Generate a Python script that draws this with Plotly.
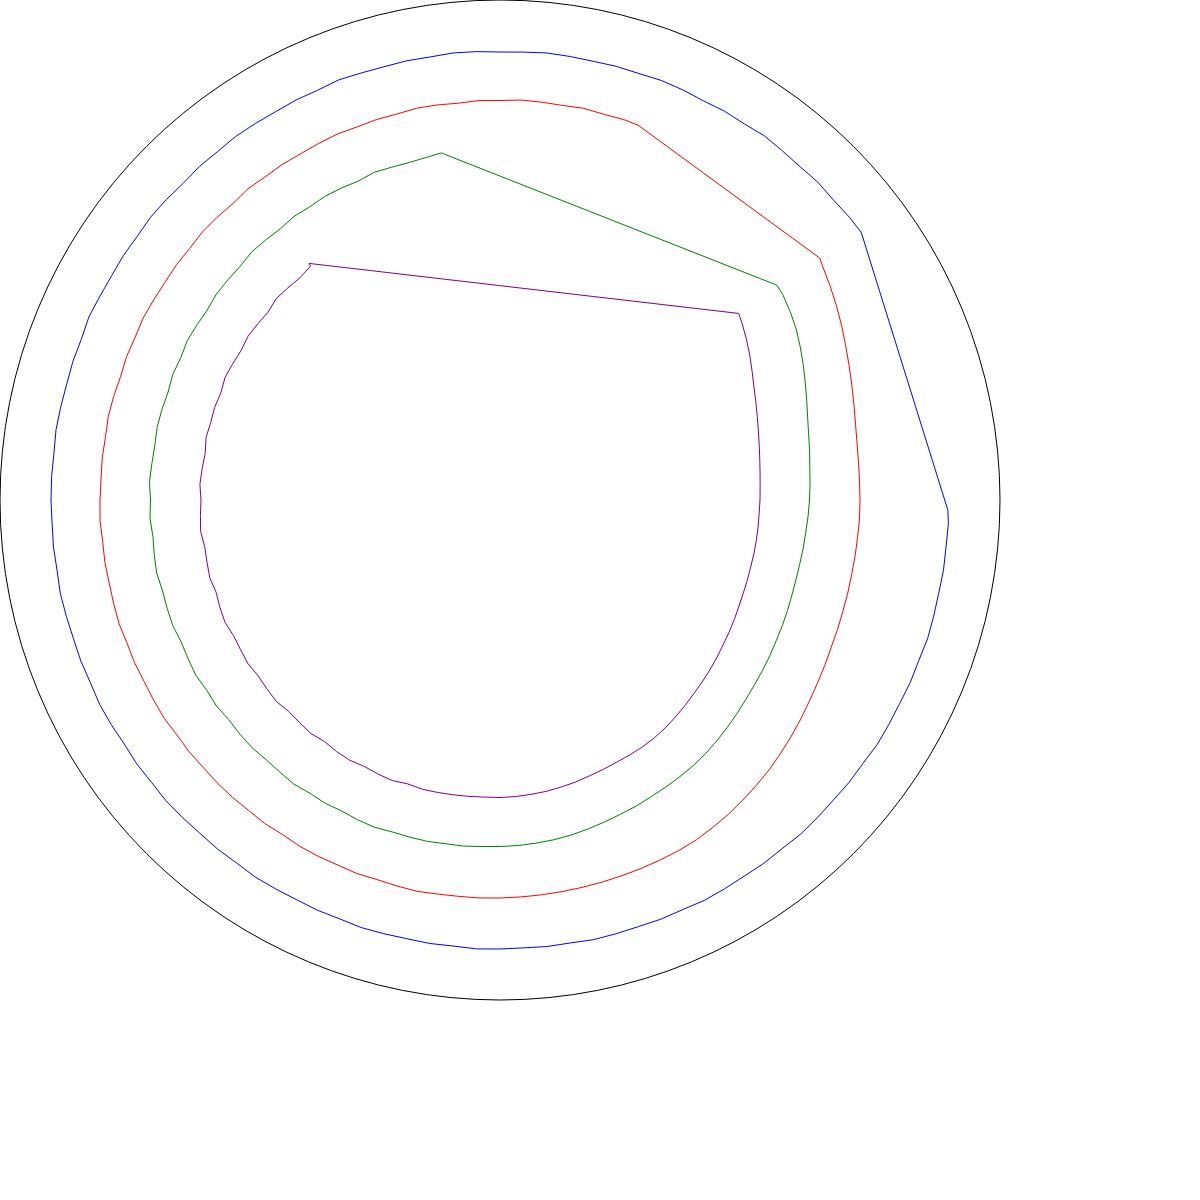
import plotly.graph_objects as go

N = None

# Shared angular sample positions (degrees, counter-clockwise from east)
ANGLES = [0, 3, 6, 9, 12, 15, 18, 21, 24, 27,
          30, 33, 36, 39, 42, 45, 48, 51, 54, 57,
          60, 63, 66, 69, 72, 75, 78, 81, 84, 87,
          90, 93, 96, 99, 102, 105, 108, 111, 114, 117,
          120, 123, 126, 129, 132, 135, 138, 141, 144, 147,
          150, 153, 156, 159, 162, 165, 168, 171, 174, 177,
          180, 183, 186, 189, 192, 195, 198, 201, 204, 207,
          210, 213, 216, 219, 222, 225, 228, 231, 234, 237,
          240, 243, 246, 249, 252, 255, 258, 261, 264, 267,
          270, 273, 276, 279, 282, 285, 288, 291, 294, 297,
          300, 303, 306, 309, 312, 315, 318, 321, 324, 327,
          330, 333, 336, 339, 342, 345, 348, 351, 354, 357]

BLUE_R = [N, N, N, N, N, N, N, N, N, N,
          N, N, N, .899, .897, .899, .897, .898, .900, .897,
          .898, .896, .898, .899, .897, .898, .897, .898, .899, .897,
          .896, .898, .899, .897, .898, .897, .898, .900, .897, .898,
          .897, .898, .899, .897, .898, .896, .898, .899, .897, .898,
          .897, .898, .900, .897, .898, .897, .898, .899, .897, .898,
          .898, .897, .898, .897, .899, .898, .897, .898, .897, .899,
          .898, .896, .898, .897, .899, .898, .897, .898, .897, .899,
          .898, .897, .898, .897, .899, .898, .897, .898, .897, .899,
          .898, .897, .898, .897, .899, .898, .897, .898, .897, .899,
          .898, .897, .898, .897, .899, .898, .897, .898, .897, .899,
          .898, .897, .898, .897, .899, .898, .897, .898, .897, .898]

RED_R = [.720, .720, .721, .723, .727, .733, .740, .748, .757, .767,
         .777, .787, .797, N, N, N, N, N, N, N,
         N, N, N, N, .800, .799, .801, .799, .800, .801,
         .799, .800, .798, .800, .801, .799, .800, .799, .801, .800,
         .799, .800, .799, .801, .798, .800, .801, .799, .800, .799,
         .800, .801, .799, .800, .798, .800, .801, .799, .800, .799,
         .800, .801, .799, .800, .799, .800, .801, .799, .800, .799,
         .800, .801, .799, .800, .799, .800, .800, .799, .800, .798,
         .800, .800, .799, .800, .798, .799, .800, .798, .797, .797,
         .796, .795, .794, .793, .792, .791, .790, .789, .788, .787,
         .785, .781, .777, .772, .767, .762, .756, .750, .744, .738,
         .733, .729, .725, .723, .721, .720, .719, .719, .719, .720]

GREEN_R = [.619, .621, .623, .627, .631, .637, .645, .654, .664, .674,
           .684, .692, .699, N, N, N, N, N, N, N,
           N, N, N, N, N, N, N, N, N, N,
           N, N, N, N, .701, .699, .700, .702, .698, .700,
           .701, .699, .701, .698, .700, .702, .699, .700, .701, .698,
           .700, .702, .699, .701, .698, .700, .701, .699, .700, .702,
           .699, .701, .698, .700, .702, .699, .700, .701, .698, .700,
           .702, .699, .701, .698, .700, .701, .699, .700, .702, .699,
           .700, .698, .700, .701, .698, .698, .698, .696, .696, .694,
           .693, .692, .690, .688, .685, .681, .677, .673, .670, .666,
           .663, .660, .657, .653, .648, .643, .638, .633, .629, .626,
           .623, .620, .618, .616, .614, .613, .613, .614, .615, .617]

PURPLE_R = [.520, .521, .523, .526, .530, .535, .541, .548, .556, .566,
            .577, .588, .599, N, N, N, N, N, N, N,
            N, N, N, N, N, N, N, N, N, N,
            N, N, N, N, N, N, N, N, N, N,
            N, N, N, .602, .598, .600, .602, .597, .599, .601,
            .598, .600, .602, .598, .600, .599, .601, .597, .599, .601,
            .598, .600, .602, .598, .599, .601, .597, .600, .602, .598,
            .599, .601, .598, .600, .602, .598, .599, .601, .597, .600,
            .601, .598, .600, .601, .597, .599, .598, .597, .596, .595,
            .595, .594, .592, .590, .587, .584, .580, .577, .574, .572,
            .570, .567, .563, .558, .553, .548, .544, .540, .536, .532,
            .529, .526, .523, .521, .520, .519, .519, .519, .519, .519]

# Gap edges: (theta, r) where each arc starts and where it ends
BLUE_EDGES = [(36.5, .899), (358.7, .896)]
RED_EDGES = [(69.8, .799), (37.1, .802)]
GREEN_EDGES = [(99.6, .704), (37.8, .701)]
PURPLE_EDGES = [(128.9, .608), (38.0, .606)]

SERIES = [
    ("blue", BLUE_R, BLUE_EDGES),
    ("red", RED_R, RED_EDGES),
    ("green", GREEN_R, GREEN_EDGES),
    ("purple", PURPLE_R, PURPLE_EDGES),
]

fig = go.Figure()
for color, rvals, (start, end) in SERIES:
    pts = [(a, r) for a, r in zip(ANGLES, rvals) if r is not None]
    pts.sort(key=lambda p: (p[0] - start[0]) % 360)
    theta = [start[0]] + [p[0] for p in pts] + [end[0], start[0]]
    rr = [start[1]] + [p[1] for p in pts] + [end[1], start[1]]
    fig.add_trace(go.Scatterpolar(r=rr, theta=theta, mode="lines",
                                  line=dict(color=color, width=1),
                                  showlegend=False, hoverinfo="skip"))

fig.update_layout(
    margin=dict(l=0, r=0, t=0, b=0),
    paper_bgcolor="white",
    showlegend=False,
    polar=dict(
        domain=dict(x=[0, 1000 / 1200], y=[200 / 1200, 1]),
        bgcolor="white",
        radialaxis=dict(visible=False, range=[0, 1]),
        angularaxis=dict(showticklabels=False, ticks="", showgrid=False,
                         linecolor="black", linewidth=1),
    ),
)

fig.write_html(
    "out.html",
    config={"displayModeBar": False},
    post_script=(
        "document.body.style.margin='0';"
        "Plotly.Plots.resize(document.getElementById('{plot_id}'));"
    ),
)
